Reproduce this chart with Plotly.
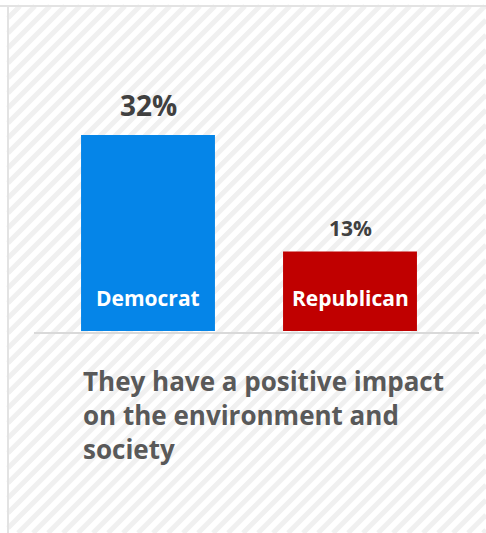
import plotly.graph_objects as go

# Share of each party saying they have a positive impact
parties = ["Democrat", "Republican"]
shares = [32, 13]
bar_colors = ["#0585E8", "#C00000"]
caption = "They have a positive impact<br>on the environment and<br>society"

W, H = 486, 533
FONT = "'Open Sans', 'Noto Sans', sans-serif"


def px(x):
    return x / W


def py(y):
    return 1 - y / H


fig = go.Figure()
fig.add_trace(go.Bar(
    x=parties,
    y=shares,
    marker=dict(color=bar_colors, line=dict(width=0)),
    hoverinfo="skip",
))

shapes = []
# diagonal hatched backdrop, clipped to the framed area
left, top, right, bottom = 8, 6, W, H
c = 26 - 15 * 40
while c < right + bottom + 30:
    xa = max(left, c - bottom)
    xb = min(right, c - top)
    if xb > xa:
        shapes.append(dict(
            type="line", xref="paper", yref="paper",
            x0=px(xa), y0=py(c - xa), x1=px(xb), y1=py(c - xb),
            line=dict(color="#F0F0F0", width=5), layer="below",
        ))
    c += 15

# frame lines on the top and left
shapes.append(dict(type="line", xref="paper", yref="paper",
                   x0=px(0), x1=px(W), y0=py(6), y1=py(6),
                   line=dict(color="#E3E3E3", width=2), layer="below"))
shapes.append(dict(type="line", xref="paper", yref="paper",
                   x0=px(8), x1=px(8), y0=py(6), y1=py(H),
                   line=dict(color="#E3E3E3", width=2), layer="below"))
# baseline under the bars
shapes.append(dict(type="line", xref="paper", yref="paper",
                   x0=px(34), x1=px(479), y0=py(333), y1=py(333),
                   line=dict(color="#D9D9D9", width=2), layer="above"))

annotations = []
value_sizes = [28, 21]
value_shift = [30, 23]
for p, v, fs, sh in zip(parties, shares, value_sizes, value_shift):
    annotations.append(dict(
        x=p, y=v, xref="x", yref="y", text=f"<b>{v}%</b>",
        showarrow=False, yanchor="middle", yshift=sh,
        font=dict(family=FONT, size=fs, color="#404040"),
    ))
    annotations.append(dict(
        x=p, y=0, xref="x", yref="y", text=f"<b>{p}</b>",
        showarrow=False, yanchor="middle", yshift=33,
        font=dict(family=FONT, size=21, color="#FFFFFF"),
    ))

annotations.append(dict(
    x=px(81), y=py(361), xref="paper", yref="paper",
    xanchor="left", yanchor="top", align="left",
    text=f"<b>{caption}</b>", showarrow=False,
    font=dict(family=FONT, size=26, color="#595959"),
))

y_bottom, y_top = 331, 86
fig.update_layout(
    width=W, height=H,
    margin=dict(l=0, r=0, t=0, b=0),
    paper_bgcolor="#FFFFFF",
    plot_bgcolor="rgba(0,0,0,0)",
    showlegend=False,
    bargap=0.337,
    xaxis=dict(domain=[px(47), px(451)], visible=False, fixedrange=True),
    yaxis=dict(domain=[py(y_bottom), py(y_top)], range=[0, 40],
               visible=False, fixedrange=True),
    shapes=shapes,
    annotations=annotations,
)

fig.write_html("out.html")
